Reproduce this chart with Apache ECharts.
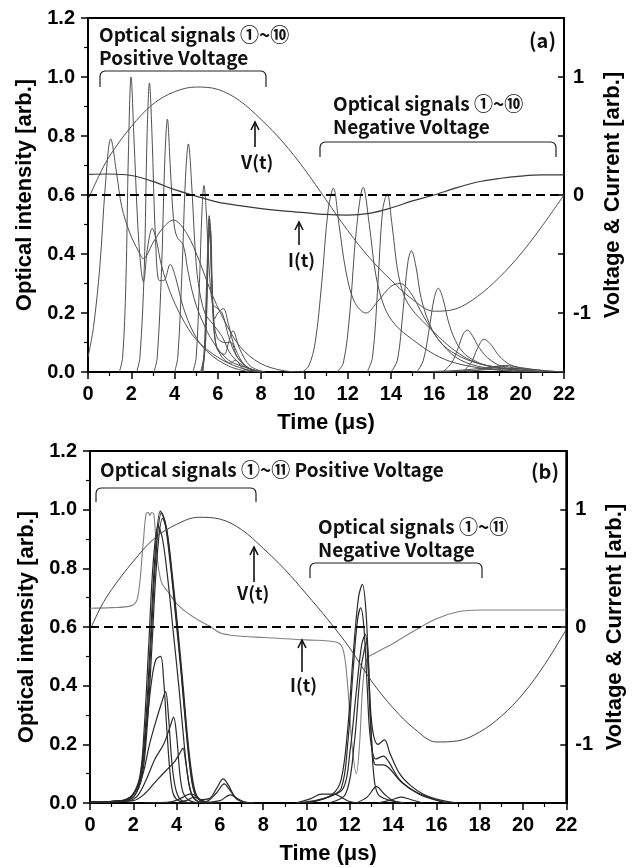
<!DOCTYPE html>
<html><head><meta charset="utf-8">
<script src="https://cdn.jsdelivr.net/npm/echarts/dist/echarts.min.js"></script>
<style>html,body{margin:0;padding:0;background:#fff}#c{width:634px;height:868px}</style>
</head><body><div id="c"></div>
<script>
// ---------- Panel (a) : voltage & current (right axis units) ----------
const vA = [[0,-0.04],[0.5,0.16],[1,0.33],[2,0.58],[3,0.77],[4,0.875],[5,0.915],[6,0.895],[7,0.8],[8,0.64],[9,0.45],[10,0.22],[11,-0.04],[12,-0.3],[13,-0.53],[14,-0.72],[15,-0.885],[16,-0.985],[17,-0.965],[18,-0.86],[19,-0.7],[20,-0.5],[21,-0.26],[22,0.0]];
const iA = [[0,0.175],[1,0.178],[2,0.165],[3,0.115],[4,0.045],[5,-0.01],[6,-0.06],[7,-0.09],[8,-0.115],[9,-0.135],[10,-0.15],[11,-0.165],[12,-0.17],[13,-0.155],[14,-0.11],[15,-0.05],[16,0.0],[17,0.06],[18,0.11],[19,0.14],[20,0.16],[21,0.17],[22,0.17]];
// optical signals, positive voltage (a)
const aP1 = [[0,0.05],[0.25,0.15],[0.55,0.36],[0.8,0.63],[1.05,0.79],[1.33,0.67],[1.56,0.56],[1.94,0.47],[2.33,0.41],[2.56,0.385],[3.02,0.44],[3.48,0.49],[3.94,0.515],[4.56,0.47],[5.18,0.37],[5.64,0.28],[6.26,0.18],[7.03,0.086],[7.95,0.03],[9,0.005],[10,0]];
const aP2 = [[1.45,0],[1.6,0.05],[1.75,0.3],[1.87,0.75],[1.99,1.0],[2.12,0.8],[2.3,0.5],[2.45,0.35],[2.56,0.306],[2.75,0.42],[2.97,0.487],[3.15,0.45],[3.4,0.36],[3.8,0.27],[4.3,0.19],[5,0.11],[6,0.05],[7,0.015],[8,0]];
const aP3 = [[2.25,0],[2.4,0.05],[2.6,0.35],[2.73,0.8],[2.84,0.98],[2.96,0.8],[3.12,0.45],[3.3,0.31],[3.5,0.31],[3.8,0.365],[4.05,0.32],[4.4,0.22],[4.9,0.13],[5.5,0.07],[6.5,0.02],[7.5,0]];
const aP4 = [[3.05,0],[3.2,0.05],[3.4,0.35],[3.55,0.72],[3.67,0.857],[3.8,0.7],[3.95,0.52],[4.1,0.46],[4.4,0.43],[4.6,0.35],[4.9,0.25],[5.3,0.17],[5.8,0.1],[6.5,0.04],[7.5,0.01],[8,0]];
const aP5 = [[4.0,0],[4.15,0.05],[4.35,0.35],[4.5,0.65],[4.64,0.773],[4.78,0.65],[4.95,0.42],[5.1,0.3],[5.4,0.2],[5.8,0.16],[6.2,0.12],[6.6,0.06],[7.2,0.02],[8,0]];
const aP6 = [[4.85,0],[5.0,0.05],[5.15,0.3],[5.27,0.55],[5.36,0.632],[5.46,0.55],[5.6,0.35],[5.75,0.23],[5.9,0.22],[6.2,0.2],[6.5,0.12],[6.9,0.05],[7.5,0.01],[8.2,0]];
const aP7 = [[5.2,0],[5.35,0.05],[5.48,0.3],[5.6,0.53],[5.7,0.35],[5.8,0.2],[5.95,0.12],[6.3,0.1],[6.6,0.1],[6.9,0.05],[7.5,0.01],[8,0]];
const aP8 = [[5.25,0],[5.4,0.08],[5.52,0.35],[5.62,0.52],[5.72,0.3],[5.85,0.18],[6.0,0.2],[6.25,0.215],[6.5,0.16],[6.8,0.08],[7.3,0.02],[8,0]];
const aP9 = [[5.3,0],[5.42,0.1],[5.55,0.4],[5.64,0.5],[5.75,0.25],[5.9,0.1],[6.2,0.05],[6.6,0.03],[6.8,0.04],[7.2,0.01],[8,0]];
const aP10 = [[5.3,0],[5.45,0.12],[5.58,0.45],[5.66,0.48],[5.78,0.2],[5.95,0.08],[6.3,0.06],[6.5,0.1],[6.7,0.14],[7.0,0.08],[7.5,0.02],[8.2,0]];
// optical signals, negative voltage (a)
const aN1 = [[9.9,0],[10.2,0.02],[10.5,0.1],[10.8,0.3],[11.1,0.55],[11.34,0.623],[11.6,0.5],[11.9,0.35],[12.3,0.24],[12.85,0.2],[13.4,0.24],[14.0,0.29],[14.42,0.3],[14.9,0.27],[15.5,0.19],[16.2,0.11],[17,0.05],[18,0.02],[19.5,0.005],[21,0]];
const aN2 = [[11.5,0],[11.8,0.03],[12.1,0.2],[12.4,0.48],[12.72,0.626],[13.0,0.5],[13.3,0.33],[13.7,0.22],[14.2,0.16],[15,0.11],[16,0.06],[17,0.03],[18.5,0.01],[20,0]];
const aN3 = [[12.9,0],[13.15,0.05],[13.4,0.3],[13.62,0.55],[13.83,0.603],[14.05,0.5],[14.3,0.35],[14.6,0.26],[15,0.21],[15.5,0.17],[16.2,0.12],[17,0.07],[18,0.03],[19.5,0.01],[21,0]];
const aN4 = [[14.0,0],[14.3,0.04],[14.55,0.2],[14.78,0.37],[14.95,0.411],[15.15,0.36],[15.4,0.25],[15.8,0.16],[16.3,0.1],[17,0.06],[18,0.03],[19.5,0.01],[21,0]];
const aN5 = [[15.2,0],[15.5,0.04],[15.8,0.16],[16.0,0.25],[16.19,0.284],[16.4,0.25],[16.7,0.16],[17.1,0.09],[17.6,0.05],[18.5,0.02],[20,0.005],[21,0]];
const aN6 = [[16.4,0],[16.8,0.03],[17.1,0.08],[17.35,0.13],[17.53,0.142],[17.75,0.125],[18.1,0.08],[18.6,0.04],[19.3,0.015],[20.5,0]];
const aN7 = [[17.3,0],[17.7,0.03],[18.0,0.08],[18.3,0.111],[18.6,0.095],[19.0,0.055],[19.5,0.025],[20.3,0.008],[21,0]];
const aN8 = [[17.5,0],[18.3,0.01],[19.0,0.02],[19.6,0.015],[20.5,0.005],[21.5,0]];
const aN9 = [[15,0],[17,0.005],[18.5,0.015],[19.3,0.022],[20,0.015],[21,0.005],[22,0]];
const aN10 = [[16,0],[18,0.006],[19.5,0.012],[20.3,0.01],[21.2,0.004],[22,0]];

// ---------- Panel (b) ----------
const vB = [[0,-0.025],[0.5,0.17],[1,0.32],[2,0.56],[3,0.76],[4,0.875],[5,0.935],[6,0.92],[7,0.83],[8,0.67],[9,0.49],[10,0.28],[11,0.06],[12,-0.18],[13,-0.46],[14,-0.69],[15,-0.87],[16,-0.98],[17,-0.97],[18,-0.895],[19,-0.76],[20,-0.57],[21,-0.32],[22,-0.02]];
const iB = [[0,0.16],[1,0.165],[1.9,0.18],[2.2,0.25],[2.45,0.7],[2.6,0.97],[2.7,0.975],[2.76,0.95],[2.85,0.975],[2.95,0.96],[3.1,0.6],[3.3,0.38],[3.6,0.3],[4.0,0.2],[4.5,0.12],[5.0,0.06],[5.5,0.01],[6.0,-0.05],[6.5,-0.07],[8,-0.09],[10,-0.11],[11.4,-0.13],[11.7,-0.2],[11.9,-0.5],[12.1,-1.0],[12.3,-1.25],[12.45,-1.0],[12.6,-0.5],[12.8,-0.27],[13.2,-0.22],[14,-0.14],[15,-0.03],[16,0.07],[17,0.13],[18,0.145],[20,0.145],[22,0.145]];
const bP1 = [[0,0.004],[1,0.005],[1.6,0.01],[2.0,0.03],[2.3,0.08],[2.55,0.25],[2.75,0.5],[3.0,0.84],[3.25,0.995],[3.45,0.96],[3.7,0.82],[3.95,0.64],[4.2,0.45],[4.4,0.28],[4.6,0.13],[4.8,0.04],[5.1,0.008],[5.6,0]];
const bP2 = [[0,0.004],[1,0.005],[1.6,0.01],[2.0,0.03],[2.35,0.09],[2.6,0.26],[2.8,0.52],[3.05,0.85],[3.3,0.99],[3.5,0.95],[3.75,0.8],[4.0,0.62],[4.25,0.42],[4.45,0.25],[4.65,0.11],[4.85,0.035],[5.15,0.006],[5.6,0]];
const bP3 = [[0,0.003],[1.5,0.008],[2.0,0.02],[2.4,0.09],[2.65,0.27],[2.85,0.52],[3.1,0.84],[3.35,0.97],[3.55,0.93],[3.8,0.78],[4.05,0.6],[4.3,0.4],[4.5,0.23],[4.7,0.1],[4.9,0.03],[5.2,0.005],[5.7,0]];
const bP4 = [[0,0.003],[1.5,0.008],[1.9,0.02],[2.3,0.09],[2.5,0.25],[2.7,0.52],[2.92,0.82],[3.15,0.945],[3.35,0.9],[3.6,0.76],[3.85,0.58],[4.1,0.4],[4.3,0.24],[4.5,0.1],[4.7,0.03],[5.0,0.005],[5.5,0]];
const bP5 = [[0,0.003],[1.6,0.01],[2.0,0.03],[2.35,0.09],[2.6,0.25],[2.85,0.42],[3.05,0.49],[3.26,0.5],[3.4,0.42],[3.55,0.25],[3.7,0.1],[3.85,0.03],[4.1,0.008],[4.6,0]];
const bP6 = [[0,0.003],[1.7,0.01],[2.1,0.03],[2.45,0.1],[2.75,0.2],[3.05,0.28],[3.3,0.34],[3.49,0.38],[3.62,0.3],[3.78,0.14],[3.95,0.05],[4.2,0.01],[4.7,0]];
const bP7 = [[0,0.002],[1.8,0.008],[2.2,0.025],[2.6,0.08],[3.0,0.15],[3.4,0.2],[3.7,0.26],[3.86,0.293],[4.0,0.23],[4.15,0.1],[4.3,0.035],[4.55,0.01],[5,0]];
const bP8 = [[0,0.002],[2,0.008],[2.5,0.03],[3,0.07],[3.5,0.11],[3.9,0.14],[4.15,0.17],[4.29,0.187],[4.42,0.14],[4.58,0.06],[4.75,0.02],[5.0,0.005],[5.4,0]];
const bP9 = [[2.5,0],[3.8,0.005],[4.3,0.02],[4.6,0.03],[4.8,0.028],[5.1,0.012],[5.5,0.002],[6,0]];
const bP10 = [[4,0],[4.5,0.01],[4.8,0.02],[5.1,0.012],[5.5,0.015],[5.85,0.05],[6.15,0.082],[6.4,0.06],[6.7,0.02],[7.1,0.004],[7.6,0]];
const bP11 = [[4.5,0],[5.4,0.006],[5.85,0.035],[6.2,0.065],[6.45,0.045],[6.8,0.012],[7.3,0]];
const bP12 = [[5,0],[6.0,0.008],[6.3,0.022],[6.5,0.028],[6.75,0.018],[7.1,0.004],[7.6,0]];
const bN1 = [[9.5,0],[10.5,0.01],[11.2,0.03],[11.6,0.08],[11.9,0.25],[12.15,0.5],[12.4,0.7],[12.58,0.745],[12.75,0.65],[12.9,0.4],[13.05,0.25],[13.3,0.2],[13.6,0.215],[13.85,0.17],[14.3,0.1],[14.8,0.06],[15.4,0.03],[16.2,0.01],[17,0]];
const bN2 = [[10,0],[11,0.02],[11.6,0.05],[11.9,0.2],[12.15,0.45],[12.35,0.62],[12.5,0.665],[12.65,0.6],[12.8,0.4],[12.95,0.22],[13.2,0.15],[13.55,0.16],[13.8,0.14],[14.3,0.08],[15,0.04],[15.8,0.015],[16.5,0]];
const bN3 = [[10,0],[11,0.02],[11.7,0.05],[12.0,0.17],[12.3,0.38],[12.55,0.54],[12.72,0.575],[12.85,0.45],[13.0,0.22],[13.2,0.13],[13.55,0.13],[13.8,0.12],[14.4,0.07],[15.2,0.03],[16,0.01],[16.6,0]];
const bN4 = [[11,0],[11.8,0.03],[12.2,0.2],[12.5,0.45],[12.78,0.55],[12.95,0.3],[13.1,0.1],[13.3,0.03],[13.8,0.01],[14.5,0]];
const bN5 = [[12.3,0],[12.8,0.02],[13.24,0.056],[13.6,0.03],[14,0.008],[14.5,0]];
const bN6 = [[13.3,0],[13.9,0.01],[14.35,0.02],[14.8,0.012],[15.4,0]];
const bN7 = [[9.5,0],[10.2,0.015],[10.7,0.03],[11.3,0.03],[11.6,0.02],[12,0.005],[12.5,0]];
const zeroLine = [[0,0],[22,0]];

const posA = [aP1,aP2,aP3,aP4,aP5,aP6,aP7,aP8,aP9,aP10];
const negA = [aN1,aN2,aN3,aN4,aN5,aN6,aN7,aN8,aN9,aN10];
const posB = [bP1,bP2,bP3,bP4,bP5,bP6,bP7,bP8,bP9,bP10,bP11,bP12];
const negB = [bN1,bN2,bN3,bN4,bN5,bN6,bN7];

const chart = echarts.init(document.getElementById('c'), null, {renderer:'canvas'});
const NUM = '"Liberation Sans", Arial, sans-serif';
const KR = '"Noto Sans CJK KR", "Noto Sans", sans-serif';
const TICK = 20, TITLE = 22;

function ln(data, g, y, color, width, z) {
  return {type:'line', xAxisIndex:g, yAxisIndex:y, data:data, symbol:'none', showSymbol:false,
    smooth:0.35, silent:true, animation:false, z:z||2,
    lineStyle:{color:color, width:width}};
}
function xAx(g) {
  return {type:'value', gridIndex:g, min:0, max:22, interval:2,
    axisLine:{show:true, onZero:false, lineStyle:{color:'#000', width:2}},
    axisTick:{show:true, length:7, lineStyle:{color:'#000', width:1.5}},
    minorTick:{show:true, splitNumber:2, length:4, lineStyle:{color:'#000', width:1.2}},
    splitLine:{show:false}, minorSplitLine:{show:false},
    axisLabel:{color:'#000', fontSize:TICK, fontWeight:'bold', fontFamily:NUM, margin:12},
    name:'Time (\u03bcs)', nameLocation:'middle', nameGap:40,
    nameTextStyle:{color:'#000', fontSize:TITLE, fontWeight:'bold', fontFamily:NUM}};
}
function yL(g) {
  return {type:'value', gridIndex:g, position:'left', min:0, max:1.2, interval:0.2,
    axisLine:{show:true, onZero:false, lineStyle:{color:'#000', width:2}},
    axisTick:{show:true, length:7, lineStyle:{color:'#000', width:1.5}},
    minorTick:{show:true, splitNumber:2, length:4, lineStyle:{color:'#000', width:1.2}},
    splitLine:{show:false},
    axisLabel:{color:'#000', fontSize:TICK, fontWeight:'bold', fontFamily:NUM, margin:13, formatter:v=>v.toFixed(1)},
    name:'Optical intensity [arb.]', nameLocation:'middle', nameGap:49, nameRotate:90,
    nameTextStyle:{color:'#000', fontSize:TITLE, fontWeight:'bold', fontFamily:NUM}};
}
function yR(g) {
  return {type:'value', gridIndex:g, position:'right', min:-1.5, max:1.5, interval:0.5,
    axisLine:{show:true, onZero:false, lineStyle:{color:'#000', width:2}},
    axisTick:{show:true, inside:true, length:6, lineStyle:{color:'#000', width:1.5}},
    splitLine:{show:false},
    axisLabel:{color:'#000', fontSize:TICK, fontWeight:'bold', fontFamily:NUM, margin:9,
      formatter:v=>(Math.abs(v-Math.round(v))<1e-9 ? String(Math.round(v)) : '')},
    name:'Voltage & Current [arb.]', nameLocation:'middle', nameGap:29, nameRotate:90,
    nameTextStyle:{color:'#000', fontSize:TITLE, fontWeight:'bold', fontFamily:NUM}};
}

const series = [];
const cA = '#505050', cB = '#2a2a2a';
posA.forEach(d=>series.push(ln(d,0,0,cA,1)));
negA.forEach(d=>series.push(ln(d,0,0,cA,1)));
series.push(ln(vA,0,1,cA,1));
series.push(ln(iA,0,1,'#3a3a3a',1.2));
posB.forEach(d=>series.push(ln(d,1,2,cB,1.2)));
negB.forEach(d=>series.push(ln(d,1,2,cB,1.2)));
series.push(ln(vB,1,3,'#444',1));
series.push(ln(iB,1,3,'#808080',1.1,1));
[[0,1],[1,3]].forEach(([g,y])=>{
  series.push({type:'line', xAxisIndex:g, yAxisIndex:y, data:zeroLine, symbol:'none', silent:true, animation:false, z:3,
    lineStyle:{color:'#000', width:1.8, type:[9,5]}});
});

function txt(x,y,s,size,align,font){
  return {type:'text', x:x, y:y, z:10, silent:true,
    style:{text:s, fill:'#111', font:'bold '+size+'px '+(font||KR), textAlign:align||'left', textVerticalAlign:'middle'}};
}
function bracket(x1,x2,y,y2){
  const r=5;
  return {type:'polyline', z:10, silent:true, shape:{points:[
    [x1,y2],[x1,y+r],[x1+0.7,y+2.5],[x1+2.5,y+0.7],[x1+r,y],[x2-r,y],[x2-2.5,y+0.7],[x2-0.7,y+2.5],[x2,y+r],[x2,y2]]},
    style:{stroke:'#222', lineWidth:1.2, fill:null}};
}
function arrow(x,yTip,yBot){
  return {type:'group', silent:true, children:[
    {type:'line', z:10, shape:{x1:x,y1:yBot,x2:x,y2:yTip}, style:{stroke:'#111', lineWidth:1.6}},
    {type:'polyline', z:10, shape:{points:[[x-4,yTip+8],[x,yTip],[x+4,yTip+8]]}, style:{stroke:'#111', lineWidth:1.6, fill:null}}
  ]};
}

const A = 19, S = 18;
const graphic = [
  txt(99,35,'Optical signals \u2460~\u2469',A),
  txt(99,58,'Positive Voltage',A),
  bracket(100,266,71,87),
  txt(556,40,'(a)',20,'right'),
  txt(241,162,'V(t)',S),
  arrow(255,122,147),
  txt(288,260,'I(t)',S),
  arrow(299,222,245),
  txt(333,104,'Optical signals \u2460~\u2469',A),
  txt(333,127,'Negative Voltage',A),
  bracket(320,556,142,157),

  txt(100,470,'Optical signals \u2460~\u246a Positive Voltage',A),
  txt(559,471,'(b)',20,'right'),
  bracket(96,256,488,502),
  txt(318,527,'Optical signals \u2460~\u246a',A),
  txt(318,550,'Negative Voltage',A),
  bracket(310,482,563,578),
  txt(237,593,'V(t)',S),
  arrow(254,547,582),
  txt(290,685,'I(t)',S),
  arrow(302,640,672)
];

chart.setOption({
  animation:false,
  backgroundColor:'#fff',
  grid:[
    {left:88, top:18, width:476, height:354, show:true, borderColor:'#000', borderWidth:2, backgroundColor:'transparent'},
    {left:90, top:451, width:477, height:352, show:true, borderColor:'#000', borderWidth:2, backgroundColor:'transparent'}
  ],
  xAxis:[xAx(0), xAx(1)],
  yAxis:[yL(0), yR(0), yL(1), yR(1)],
  series:series,
  graphic:graphic
});
</script></body></html>
